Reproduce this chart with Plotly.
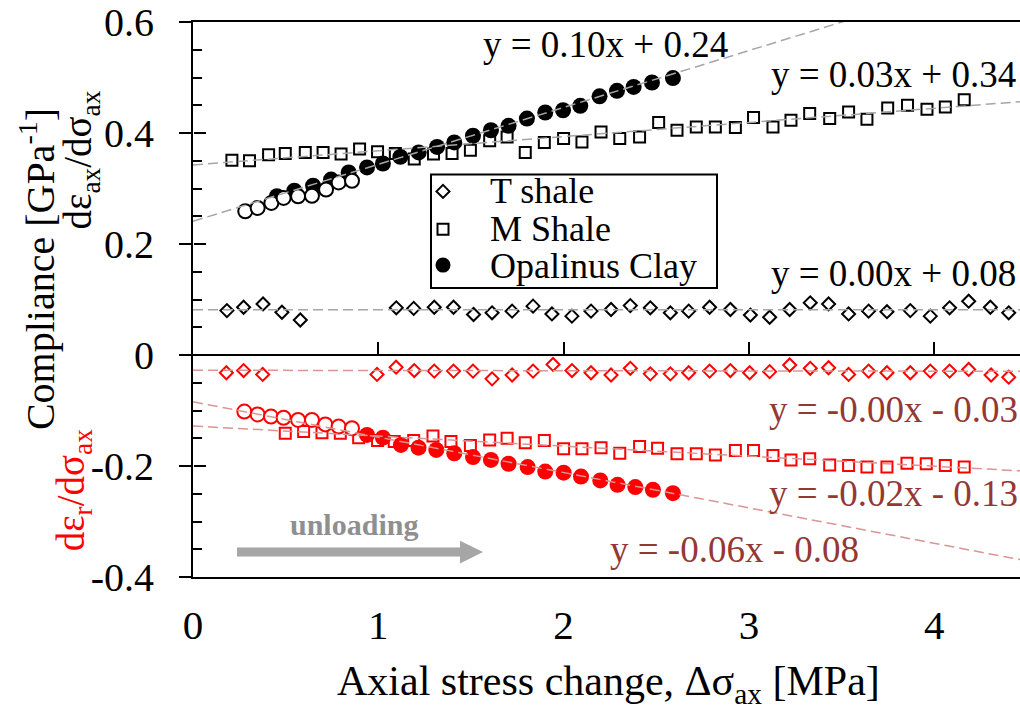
import plotly.graph_objects as go

FONT = "'Liberation Serif', 'Times New Roman', Times, serif"
W, H = 1020, 713
ML, MR, MT, MB = 193, 0, 20, 136
X_RANGE = [0, 4.463]
Y_RANGE = [-0.4, 0.6]

# ---------------- data ----------------
t_ax_x = [0.183, 0.273, 0.378, 0.480, 0.579, 1.097, 1.191, 1.302, 1.406, 1.514, 1.614, 1.722, 1.835,
          1.937, 2.045, 2.148, 2.256, 2.360, 2.468, 2.576, 2.675, 2.788, 2.900, 3.008, 3.112, 3.220,
          3.331, 3.430, 3.538, 3.646, 3.745, 3.871, 3.979, 4.083, 4.186, 4.303, 4.402]
t_ax_y = [0.080, 0.086, 0.092, 0.077, 0.063, 0.085, 0.084, 0.086, 0.086, 0.073, 0.076, 0.079, 0.088,
          0.074, 0.070, 0.079, 0.082, 0.089, 0.085, 0.076, 0.079, 0.086, 0.082, 0.072, 0.068, 0.082,
          0.094, 0.092, 0.074, 0.079, 0.078, 0.080, 0.070, 0.085, 0.097, 0.086, 0.076]

m_ax_x = [0.210, 0.305, 0.408, 0.498, 0.606, 0.702, 0.799, 0.899, 0.996, 1.092, 1.194, 1.298, 1.398,
          1.497, 1.601, 1.695, 1.793, 1.896, 2.000, 2.099, 2.202, 2.303, 2.410, 2.513, 2.612, 2.716,
          2.819, 2.927, 3.025, 3.130, 3.227, 3.328, 3.436, 3.538, 3.637, 3.749, 3.856, 3.961, 4.060, 4.162]
m_ax_y = [0.351, 0.350, 0.361, 0.363, 0.365, 0.365, 0.362, 0.371, 0.366, 0.363, 0.353, 0.362, 0.363,
          0.369, 0.386, 0.393, 0.365, 0.383, 0.390, 0.384, 0.402, 0.390, 0.393, 0.419, 0.405, 0.411,
          0.411, 0.410, 0.428, 0.411, 0.423, 0.435, 0.426, 0.438, 0.425, 0.445, 0.450, 0.443, 0.447, 0.460]

o_ax_x = [0.453, 0.547, 0.648, 0.745, 0.840, 0.939, 1.025, 1.119, 1.218, 1.317, 1.410, 1.511, 1.608,
          1.703, 1.802, 1.901, 1.997, 2.090, 2.194, 2.288, 2.378, 2.477, 2.590]
o_ax_y = [0.286, 0.296, 0.305, 0.316, 0.329, 0.338, 0.345, 0.357, 0.365, 0.375, 0.383, 0.395, 0.405,
          0.413, 0.426, 0.437, 0.441, 0.449, 0.466, 0.476, 0.483, 0.491, 0.499]
o_ax_open_x = [0.282, 0.349, 0.423, 0.489, 0.567, 0.642, 0.718, 0.786, 0.858]
o_ax_open_y = [0.259, 0.265, 0.274, 0.283, 0.286, 0.287, 0.298, 0.311, 0.314]

t_r_x = [0.180, 0.273, 0.376, 0.993, 1.096, 1.194, 1.302, 1.406, 1.511, 1.614, 1.722, 1.835, 1.943,
         2.045, 2.148, 2.256, 2.360, 2.468, 2.576, 2.675, 2.788, 2.900, 3.004, 3.112, 3.220, 3.331,
         3.430, 3.538, 3.646, 3.745, 3.871, 3.979, 4.083, 4.186, 4.307, 4.402]
t_r_y = [-0.032, -0.028, -0.035, -0.035, -0.022, -0.028, -0.029, -0.029, -0.029, -0.043, -0.036, -0.029,
         -0.017, -0.028, -0.032, -0.036, -0.024, -0.034, -0.034, -0.032, -0.029, -0.028, -0.032, -0.030,
         -0.018, -0.024, -0.023, -0.035, -0.029, -0.032, -0.032, -0.029, -0.029, -0.026, -0.036, -0.040]

m_r_x = [0.498, 0.597, 0.696, 0.795, 0.894, 0.996, 1.086, 1.191, 1.295, 1.392, 1.497, 1.601, 1.695,
         1.793, 1.896, 2.000, 2.099, 2.202, 2.303, 2.410, 2.507, 2.612, 2.716, 2.819, 2.927, 3.025,
         3.130, 3.227, 3.328, 3.436, 3.538, 3.637, 3.745, 3.853, 3.957, 4.060, 4.162]
m_r_y = [-0.141, -0.138, -0.140, -0.141, -0.149, -0.154, -0.156, -0.154, -0.146, -0.156, -0.163, -0.153,
         -0.150, -0.158, -0.154, -0.169, -0.169, -0.167, -0.177, -0.165, -0.168, -0.178, -0.178, -0.180,
         -0.172, -0.172, -0.181, -0.189, -0.187, -0.198, -0.199, -0.202, -0.202, -0.195, -0.196, -0.199, -0.202]

o_r_x = [0.939, 1.025, 1.122, 1.217, 1.313, 1.410, 1.511, 1.608, 1.703, 1.806, 1.901, 2.000, 2.094,
         2.198, 2.291, 2.387, 2.482, 2.590]
o_r_y = [-0.144, -0.149, -0.162, -0.167, -0.171, -0.177, -0.184, -0.189, -0.196, -0.202, -0.210, -0.212,
         -0.219, -0.226, -0.234, -0.238, -0.243, -0.249]
o_r_open_x = [0.277, 0.349, 0.421, 0.489, 0.567, 0.642, 0.714, 0.786, 0.858]
o_r_open_y = [-0.102, -0.107, -0.111, -0.113, -0.117, -0.117, -0.125, -0.129, -0.132]

# trend lines (slope, intercept) and their labels
trend_slopes = [0.1025, 0.0255, 0.0, -0.0004, -0.0181, -0.0637]
trend_inters = [0.241, 0.3425, 0.0814, -0.0275, -0.128, -0.0844]
trend_labels = ["y = 0.10x + 0.24", "y = 0.03x + 0.34", "y = 0.00x + 0.08",
                "y = -0.00x - 0.03", "y = -0.02x - 0.13", "y = -0.06x - 0.08"]
legend_names = ["T shale", "M Shale", "Opalinus Clay"]
y_tickvals = [-0.4, -0.2, 0, 0.2, 0.4, 0.6]
y_ticktext = ["-0.4", "-0.2", "0", "0.2", "0.4", "0.6"]
y_minor = [-0.35, -0.3, -0.25, -0.15, -0.1, -0.05, 0.05, 0.1, 0.15, 0.25, 0.3, 0.35, 0.45, 0.5, 0.55]
x_tickvals = [0, 1, 2, 3, 4]

BLACK = "black"
RED = "#FF0000"
EQ_RED = "#953735"
GRAY_LINE = "#A6A6A6"
RED_LINE = "#D99694"

PW = W - ML - MR
PH = H - MT - MB


def pxx(px):
    return (px - ML) / PW


def pxy(py):
    return (H - MB - py) / PH


fig = go.Figure()


def mk(x, y, symbol, color, size, fill=None, lw=2):
    m = dict(symbol=symbol, size=size, color=fill if fill else color,
             line=dict(color=color, width=lw))
    fig.add_trace(go.Scatter(x=x, y=y, mode="markers", marker=m, showlegend=False,
                             hoverinfo="skip"))


# axial (black)
mk(t_ax_x, t_ax_y, "diamond-open", BLACK, 10)
mk(m_ax_x, m_ax_y, "square-open", BLACK, 11)
mk(o_ax_x, o_ax_y, "circle", BLACK, 16, fill=BLACK, lw=0)
mk(o_ax_open_x, o_ax_open_y, "circle", BLACK, 14, fill="white")
# radial (red)
mk(t_r_x, t_r_y, "diamond-open", RED, 10)
mk(m_r_x, m_r_y, "square-open", RED, 11)
mk(o_r_x, o_r_y, "circle", RED, 16, fill=RED, lw=0)
mk(o_r_open_x, o_r_open_y, "circle", RED, 14, fill="white")

# trend lines on overlay axes
for i, (s, b) in enumerate(zip(trend_slopes, trend_inters)):
    xs = [X_RANGE[0], X_RANGE[1]]
    ys = [s * v + b for v in xs]
    fig.add_trace(go.Scatter(x=xs, y=ys, mode="lines", xaxis="x2", yaxis="y2",
                             line=dict(color=GRAY_LINE if i < 3 else RED_LINE, width=1.5,
                                       dash="10px,5px"),
                             showlegend=False, hoverinfo="skip"))

# equation labels
eq_pos = [(605, 43), (893, 73), (893, 272), (893, 409), (893, 493), (734, 549)]
ann = []
for i, (lbl, (px, py)) in enumerate(zip(trend_labels, eq_pos)):
    ann.append(dict(text=lbl, x=pxx(px), y=pxy(py), xref="paper", yref="paper",
                    xanchor="center", yanchor="middle", showarrow=False,
                    font=dict(family=FONT, size=37, color=BLACK if i < 3 else EQ_RED)))

# legend (manual box)
leg_rows = [190, 228, 265]
for name, py in zip(legend_names, leg_rows):
    ann.append(dict(text=name, x=pxx(488), y=pxy(py), xref="paper", yref="paper",
                    xanchor="left", yanchor="middle", showarrow=False,
                    font=dict(family=FONT, size=36, color=BLACK)))

# axis labels
ann.append(dict(text="Compliance [GPa<sup>-1</sup>]", x=pxx(37), y=pxy(268), xref="paper",
                yref="paper", textangle=-90, showarrow=False, xanchor="center", yanchor="middle",
                font=dict(family=FONT, size=40, color=BLACK)))
ann.append(dict(text="dε<sub>ax</sub>/dσ<sub>ax</sub>", x=pxx(81), y=pxy(159), xref="paper",
                yref="paper", textangle=-90, showarrow=False, xanchor="center", yanchor="middle",
                font=dict(family=FONT, size=39, color=BLACK)))
ann.append(dict(text="dε<sub>r</sub>/dσ<sub>ax</sub>", x=pxx(73), y=pxy(490), xref="paper",
                yref="paper", textangle=-90, showarrow=False, xanchor="center", yanchor="middle",
                font=dict(family=FONT, size=39, color=RED)))
ann.append(dict(text="Axial stress change, Δσ<sub>ax</sub> [MPa]", x=pxx(608), y=pxy(684),
                xref="paper", yref="paper", showarrow=False, xanchor="center", yanchor="middle",
                font=dict(family=FONT, size=42, color=BLACK)))
ann.append(dict(text="<b>unloading</b>", x=pxx(354), y=pxy(524), xref="paper", yref="paper",
                showarrow=False, xanchor="center", yanchor="middle",
                font=dict(family=FONT, size=30, color="#8F8F8F")))

shapes = []
# legend frame
shapes.append(dict(type="rect", xref="paper", yref="paper", x0=pxx(431), x1=pxx(717),
                   y0=pxy(287), y1=pxy(173), line=dict(color=BLACK, width=2),
                   fillcolor="white", layer="above"))
# legend keys
kx = pxx(443)
shapes.append(dict(type="path", xref="paper", yref="paper", xsizemode="pixel", ysizemode="pixel",
                   xanchor=kx, yanchor=pxy(190), path="M -6.5 0 L 0 6.5 L 6.5 0 L 0 -6.5 Z",
                   line=dict(color=BLACK, width=2), fillcolor="white", layer="above"))
shapes.append(dict(type="rect", xref="paper", yref="paper", xsizemode="pixel", ysizemode="pixel",
                   xanchor=kx, yanchor=pxy(228), x0=-5.5, x1=5.5, y0=-5.5, y1=5.5,
                   line=dict(color=BLACK, width=2), fillcolor="white", layer="above"))
shapes.append(dict(type="circle", xref="paper", yref="paper", xsizemode="pixel", ysizemode="pixel",
                   xanchor=kx, yanchor=pxy(264), x0=-7.5, x1=7.5, y0=-7.5, y1=7.5,
                   line=dict(color=BLACK, width=0), fillcolor=BLACK, layer="above"))
# unloading arrow
ax0, ax1, ax2 = pxx(237), pxx(460), pxx(483)
ayc = pxy(552)
sh, hh = 4.5 / PH, 11.5 / PH
arrow_path = (f"M {ax0} {ayc - sh} L {ax1} {ayc - sh} L {ax1} {ayc - hh} L {ax2} {ayc} "
              f"L {ax1} {ayc + hh} L {ax1} {ayc + sh} L {ax0} {ayc + sh} Z")
shapes.append(dict(type="path", xref="paper", yref="paper", path=arrow_path,
                   fillcolor="#A6A6A6", line=dict(width=0)))

fig.update_layout(
    width=W, height=H, margin=dict(l=ML, r=MR, t=MT, b=MB, pad=0),
    paper_bgcolor="white", plot_bgcolor="white",
    font=dict(family=FONT, size=40, color=BLACK),
    showlegend=False,
    xaxis=dict(range=X_RANGE, showline=True, linecolor=BLACK, linewidth=2, mirror=True,
               ticks="", tickmode="array", tickvals=x_tickvals, showgrid=False, zeroline=False,
               tickfont=dict(family=FONT, size=41, color=BLACK), ticklabelstandoff=11,
               ticklabeloverflow="allow"),
    xaxis2=dict(range=X_RANGE, overlaying="x", anchor="free", position=0.4, showline=True,
                linecolor=BLACK, linewidth=2, ticks="inside", ticklen=12, tickwidth=2,
                tickcolor=BLACK, tickmode="array", tickvals=[1, 2, 3, 4], showticklabels=False,
                showgrid=False, zeroline=False),
    yaxis=dict(range=Y_RANGE, showline=True, linecolor=BLACK, linewidth=2, ticks="outside",
               ticklen=12, tickwidth=2, tickcolor=BLACK, tickmode="array", tickvals=y_tickvals,
               ticktext=y_ticktext, showgrid=False, zeroline=False,
               tickfont=dict(family=FONT, size=40, color=BLACK), ticklabelstandoff=17,
               ticklabeloverflow="allow",
               minor=dict(tickmode="array", tickvals=y_minor, ticks="inside", ticklen=9,
                          tickwidth=2, tickcolor=BLACK, showgrid=False)),
    yaxis2=dict(range=Y_RANGE, overlaying="y", anchor="free", position=0, showline=False,
                ticks="inside", ticklen=12, tickwidth=2, tickcolor=BLACK, tickmode="array",
                tickvals=y_tickvals, showticklabels=False, showgrid=False, zeroline=False),
    annotations=ann,
    shapes=shapes,
)

fig.write_html("out.html")
